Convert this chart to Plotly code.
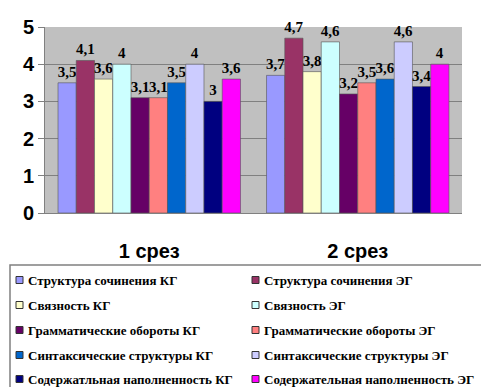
import plotly.graph_objects as go

categories = ["1 срез", "2 срез"]

series_names = [
    "Структура сочинения КГ",
    "Структура сочинения ЭГ",
    "Связность КГ",
    "Связность ЭГ",
    "Грамматические обороты КГ",
    "Грамматические обороты ЭГ",
    "Синтаксические структуры КГ",
    "Синтаксические структуры ЭГ",
    "Содержатльная наполненность КГ",
    "Содержательная наполненность ЭГ",
]

structure_kg = [3.5, 3.7]
structure_eg = [4.1, 4.7]
coherence_kg = [3.6, 3.8]
coherence_eg = [4.0, 4.6]
grammar_kg = [3.1, 3.2]
grammar_eg = [3.1, 3.5]
syntax_kg = [3.5, 3.6]
syntax_eg = [4.0, 4.6]
content_kg = [3.0, 3.4]
content_eg = [3.6, 4.0]

series_values = [
    structure_kg, structure_eg, coherence_kg, coherence_eg, grammar_kg,
    grammar_eg, syntax_kg, syntax_eg, content_kg, content_eg,
]

colors = [
    "#9999FF", "#993366", "#FFFFCC", "#CCFFFF", "#660066",
    "#FF8080", "#0066CC", "#CCCCFF", "#000080", "#FF00FF",
]

W, H = 481, 387
ML, MR, MT, MB = 45, 19, 27, 174
PW, PH = W - ML - MR, H - MT - MB


def px_x(x):
    return (x - ML) / PW


def px_y(y):
    return (H - MB - y) / PH


def fmt(v):
    return ("%g" % v).replace(".", ",")


fig = go.Figure()
for name, vals, col in zip(series_names, series_values, colors):
    fig.add_trace(go.Bar(
        name=name,
        x=categories,
        y=vals,
        marker=dict(color=col, line=dict(color="#555555", width=0.6)),
        text=[fmt(v) for v in vals],
        textposition="outside",
        constraintext="none",
        textfont=dict(family="Liberation Serif", size=15, color="black", weight="bold"),
        cliponaxis=False,
        showlegend=False,
    ))

# Legend block: framed box under the chart, two columns of five entries
shapes = [dict(
    type="rect", xref="paper", yref="paper",
    x0=px_x(10), x1=px_x(495), y0=px_y(265), y1=px_y(400),
    line=dict(color="#808080", width=1.5), fillcolor="white", layer="above",
)]
annotations = []
row_y = [280, 305, 330, 355, 379]
col_sym = [16, 252]
col_txt = [26, 262]
for i, (name, col) in enumerate(zip(series_names, colors)):
    r, c = divmod(i, 2)
    yc = row_y[r]
    shapes.append(dict(
        type="rect", xref="paper", yref="paper",
        x0=px_x(col_sym[c]), x1=px_x(col_sym[c] + 7),
        y0=px_y(yc + 3.5), y1=px_y(yc - 3.5),
        line=dict(color="#333333", width=1), fillcolor=col, layer="above",
    ))
    annotations.append(dict(
        xref="paper", yref="paper", x=px_x(col_txt[c]), y=px_y(yc),
        xanchor="left", yanchor="middle", showarrow=False, text=name,
        font=dict(family="Liberation Serif", size=13, color="black", weight="bold"),
    ))

fig.update_layout(
    width=W,
    height=H,
    barmode="group",
    bargap=0.125,
    bargroupgap=0,
    paper_bgcolor="white",
    plot_bgcolor="#C0C0C0",
    margin=dict(l=ML, r=MR, t=MT, b=MB),
    font=dict(family="Liberation Sans", color="black"),
    showlegend=False,
    shapes=shapes,
    annotations=annotations,
    xaxis=dict(
        showgrid=False,
        showline=True,
        linecolor="#808080",
        ticks="",
        tickfont=dict(family="Liberation Sans", size=20, color="black", weight="bold"),
        ticklabelstandoff=20,
    ),
    yaxis=dict(
        range=[0, 5],
        dtick=1,
        showgrid=True,
        gridcolor="#808080",
        gridwidth=1,
        showline=True,
        linecolor="#808080",
        ticks="outside",
        ticklen=6,
        tickcolor="#808080",
        tickfont=dict(family="Liberation Sans", size=20, color="black", weight="bold"),
        zeroline=False,
    ),
)

fig.write_html("out.html")
